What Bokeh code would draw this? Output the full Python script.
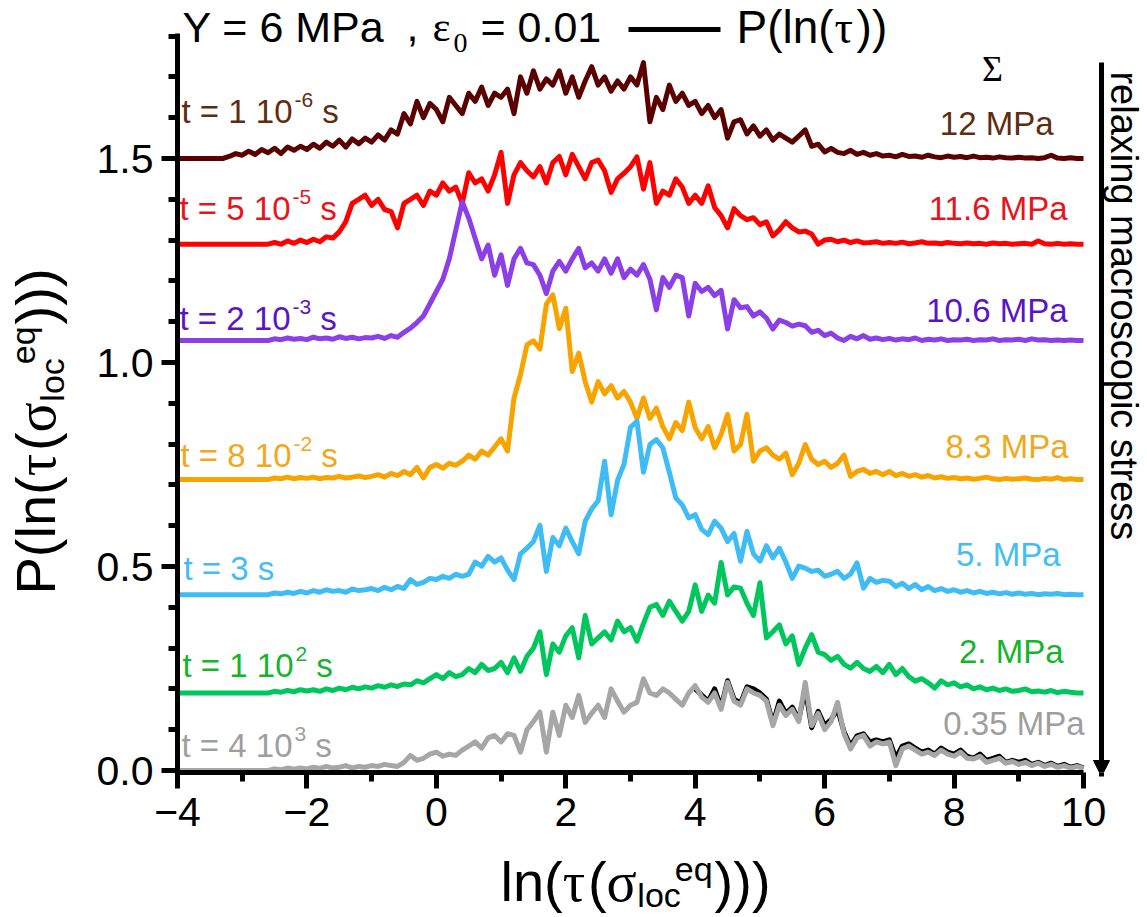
import numpy as np
from bokeh.plotting import figure
from bokeh.layouts import row, column
from bokeh.models import Range1d, FixedTicker, Label, Arrow, NormalHead
from bokeh.embed import file_html
from bokeh.resources import INLINE

# ---------------- data ----------------
# sampling grid of ln(tau), step 0.1 from -4 to 10
x_grid = [round(-4 + 0.1 * i, 1) for i in range(141)]

# relaxation time labels and macroscopic stress labels
t_mantissa = ["1", "5", "2", "8", "3", "1", "4"]
t_exponent = ["-6", "-5", "-3", "-2", "", "2", "3"]
stress_labels = ["12 MPa", "11.6 MPa", "10.6 MPa", "8.3 MPa", "5. MPa", "2. MPa", "0.35 MPa"]
stack_offsets = [1.50, 1.29, 1.054, 0.713, 0.431, 0.19, 0.0]

p_t1e6 = [0, 0, 0, 0, 0, 0, 0, 0, 0.005, 0.012,
          0.008, 0.018, 0.01, 0.022, 0.014, 0.025, 0.012, 0.028, 0.02, 0.03,
          0.022, 0.035, 0.025, 0.04, 0.03, 0.045, 0.028, 0.048, 0.036, 0.05,
          0.04, 0.058, 0.045, 0.07, 0.06, 0.11, 0.085, 0.14, 0.1, 0.135,
          0.12, 0.09, 0.15, 0.13, 0.11, 0.16, 0.14, 0.175, 0.13, 0.16,
          0.15, 0.17, 0.11, 0.2, 0.16, 0.215, 0.17, 0.195, 0.18, 0.215,
          0.16, 0.2, 0.15, 0.19, 0.225, 0.18, 0.2, 0.165, 0.19, 0.17,
          0.2, 0.18, 0.235, 0.09, 0.15, 0.12, 0.18, 0.14, 0.16, 0.13,
          0.14, 0.11, 0.13, 0.1, 0.12, 0.05, 0.09, 0.095, 0.06, 0.08,
          0.055, 0.07, 0.045, 0.06, 0.05, 0.04, 0.055, 0.07, 0.03, 0.035,
          0.016, 0.025, 0.015, 0.012, 0.02, 0.01, 0.015, 0.008, 0.012, 0.006,
          0.008, 0.004, 0.01, 0.005, 0.006, 0.003, 0.008, 0.004, 0.002, 0.006,
          0.003, 0.005, 0.002, 0.006, 0.002, 0.003, 0.001, 0.004, 0.002, 0.001,
          0.003, 0.001, 0.002, 0, 0.002, 0.008, 0.001, 0, 0.002, 0,
          0]

p_t5e5 = [0, 0, 0, 0, 0, 0, 0, 0, 0, 0,
          0, 0, 0, 0, 0, 0.004, 0, 0.008, 0.002, 0.01,
          0.004, 0.012, 0.006, 0.018, 0.015, 0.03, 0.055, 0.1, 0.11, 0.12,
          0.095, 0.11, 0.085, 0.08, 0.04, 0.1, 0.11, 0.12, 0.095, 0.13,
          0.12, 0.15, 0.13, 0.14, 0.1, 0.175, 0.15, 0.16, 0.13, 0.17,
          0.225, 0.1, 0.17, 0.2, 0.18, 0.165, 0.19, 0.15, 0.2, 0.215,
          0.17, 0.22, 0.19, 0.16, 0.2, 0.206, 0.18, 0.127, 0.16, 0.174,
          0.19, 0.214, 0.135, 0.2, 0.1, 0.13, 0.12, 0.16, 0.14, 0.1,
          0.12, 0.1, 0.143, 0.09, 0.07, 0.04, 0.087, 0.07, 0.06, 0.065,
          0.048, 0.055, 0.02, 0.035, 0.055, 0.04, 0.03, 0.032, 0.025, 0.0,
          0.01, 0.012, 0.006, 0.01, 0.004, 0.008, 0.003, 0.004, 0.006, 0.002,
          0.004, 0.002, 0.005, 0.001, 0.003, 0.006, 0.002, 0.003, 0.001, 0.004,
          0.002, 0.001, 0.003, 0.001, 0.002, 0, 0.003, 0.001, 0.002, 0,
          0.001, 0.002, 0, 0.008, 0.001, 0, 0.002, 0, 0.001, 0,
          0]

p_t2e3 = [0, 0, 0, 0, 0, 0, 0, 0, 0, 0,
          0, 0, 0, 0, 0, 0.004, 0.002, 0.006, 0.003, 0.005,
          0.002, 0.008, 0.004, 0.006, 0.003, 0.009, 0.005, 0.008, 0.004, 0.007,
          0.006, 0.01, 0.005, 0.012, 0.008, 0.02, 0.03, 0.044, 0.06, 0.09,
          0.12, 0.15, 0.2, 0.27, 0.34, 0.3, 0.25, 0.2, 0.234, 0.16,
          0.21, 0.135, 0.2, 0.226, 0.19, 0.186, 0.16, 0.115, 0.17, 0.194,
          0.17, 0.2, 0.226, 0.178, 0.19, 0.17, 0.2, 0.165, 0.2, 0.154,
          0.175, 0.16, 0.186, 0.15, 0.075, 0.154, 0.13, 0.16, 0.154, 0.06,
          0.14, 0.12, 0.13, 0.11, 0.123, 0.028, 0.1, 0.08, 0.083, 0.06,
          0.07, 0.055, 0.028, 0.05, 0.044, 0.035, 0.04, 0.036, 0.02, 0.025,
          0.012, 0.018, 0.006, 0, 0.01, 0.004, 0.012, 0.003, 0.006, 0.002,
          0.005, 0.001, 0.004, 0.002, 0.006, 0, 0.003, 0.001, 0.004, 0,
          0.002, 0.001, 0.003, 0, 0.002, 0.001, 0.004, 0, 0.002, 0.001,
          0.003, 0, 0.004, 0.001, 0.002, 0, 0.001, 0, 0.001, 0,
          0]

p_t8e2 = [0, 0, 0, 0, 0, 0, 0, 0, 0, 0,
          0, 0, 0, 0, 0, 0.004, 0.002, 0.006, 0.002, 0.005,
          0.003, 0.006, 0.002, 0.005, 0.004, 0.008, 0.004, 0.006, 0.009, 0.005,
          0.008, 0.012, 0.006, 0.015, 0.01, 0.02, 0.012, 0.03, 0.004, 0.03,
          0.037, 0.028, 0.04, 0.035, 0.045, 0.06, 0.05, 0.07, 0.06, 0.08,
          0.1, 0.07, 0.2, 0.257, 0.33, 0.34, 0.32, 0.43, 0.453, 0.37,
          0.42, 0.265, 0.31, 0.24, 0.19, 0.24, 0.21, 0.23, 0.2, 0.216,
          0.19, 0.15, 0.2, 0.15, 0.175, 0.13, 0.1, 0.14, 0.12, 0.19,
          0.127, 0.1, 0.13, 0.078, 0.11, 0.16, 0.07, 0.086, 0.16, 0.045,
          0.07, 0.078, 0.06, 0.05, 0.065, 0.012, 0.04, 0.086, 0.05, 0.037,
          0.045, 0.03, 0.04, 0.06, 0.008, 0.02, 0.025, 0.015, 0.02, 0.012,
          0.02, 0.01, 0.015, 0.008, 0.012, 0.006, 0.01, 0.004, 0.007, 0.003,
          0.005, 0.002, 0.004, 0.001, 0.003, 0.006, 0.002, 0, 0.003, 0.001,
          0.002, 0.004, 0.001, 0, 0.003, 0.001, 0.005, 0, 0.002, 0,
          0]

p_t3 = [0, 0, 0, 0, 0, 0, 0, 0, 0, 0,
        0, 0, 0, 0, 0, 0.004, 0.002, 0.006, 0.003, 0.008,
        0.004, 0.01, 0.006, 0.012, 0.008, 0.01, 0.006, 0.014, 0.01, 0.012,
        0.015, 0.01, 0.018, 0.012, 0.02, 0.015, 0.037, 0.025, 0.03, 0.04,
        0.037, 0.045, 0.04, 0.05, 0.045, 0.05, 0.08, 0.07, 0.094, 0.08,
        0.09, 0.06, 0.037, 0.1, 0.114, 0.13, 0.17, 0.057, 0.14, 0.12,
        0.163, 0.13, 0.1, 0.18, 0.21, 0.23, 0.327, 0.196, 0.28, 0.32,
        0.41, 0.425, 0.3, 0.368, 0.38, 0.36, 0.3, 0.237, 0.22, 0.188,
        0.196, 0.16, 0.147, 0.18, 0.163, 0.13, 0.15, 0.082, 0.155, 0.1,
        0.082, 0.12, 0.09, 0.114, 0.08, 0.04, 0.07, 0.065, 0.057, 0.06,
        0.045, 0.05, 0.057, 0.04, 0.05, 0.078, 0.016, 0.04, 0.03, 0.035,
        0.033, 0.02, 0.028, 0.015, 0.025, 0.012, 0.02, 0.01, 0.015, 0.008,
        0.012, 0.006, 0.01, 0.004, 0.008, 0.003, 0.006, 0.002, 0.005, 0.001,
        0.004, 0.001, 0.003, 0, 0.002, 0.001, 0.003, 0, 0.001, 0,
        0]

p_t1e2 = [0, 0, 0, 0, 0, 0, 0, 0, 0, 0,
          0, 0, 0, 0, 0, 0.004, 0.002, 0.006, 0.003, 0.008,
          0.005, 0.008, 0.004, 0.01, 0.006, 0.012, 0.008, 0.014, 0.01, 0.015,
          0.012, 0.018, 0.014, 0.02, 0.016, 0.022, 0.02, 0.03, 0.025, 0.035,
          0.045, 0.035, 0.05, 0.04, 0.045, 0.06, 0.05, 0.07, 0.055, 0.06,
          0.075, 0.05, 0.086, 0.053, 0.09, 0.11, 0.15, 0.045, 0.12, 0.1,
          0.14, 0.16, 0.086, 0.19, 0.12, 0.135, 0.15, 0.13, 0.176, 0.15,
          0.16, 0.127, 0.17, 0.21, 0.217, 0.19, 0.225, 0.2, 0.176, 0.2,
          0.265, 0.2, 0.24, 0.22, 0.32, 0.24, 0.26, 0.257, 0.22, 0.19,
          0.27, 0.135, 0.15, 0.167, 0.12, 0.14, 0.07, 0.11, 0.143, 0.1,
          0.094, 0.08, 0.09, 0.07, 0.061, 0.075, 0.06, 0.053, 0.065, 0.05,
          0.07, 0.045, 0.06, 0.04, 0.029, 0.035, 0.025, 0.012, 0.03, 0.02,
          0.025, 0.015, 0.02, 0.01, 0.015, 0.008, 0.012, 0.006, 0.01, 0.004,
          0.006, 0.01, 0.003, 0.005, 0.002, 0.006, 0.001, 0.004, 0.002, 0,
          0]

p_t4e3 = [0, 0, 0, 0, 0, 0, 0, 0, 0, 0,
          0, 0, 0, 0, 0, 0.004, 0.002, 0.006, 0.003, 0.006,
          0.004, 0.008, 0.005, 0.01, 0.006, 0.008, 0.012, 0.006, 0.01, 0.008,
          0.012, 0.01, 0.015, 0.012, 0.01, 0.02, 0.037, 0.025, 0.03, 0.04,
          0.045, 0.035, 0.04, 0.037, 0.05, 0.06, 0.07, 0.055, 0.08, 0.086,
          0.07, 0.09, 0.086, 0.045, 0.1, 0.12, 0.143, 0.045, 0.143, 0.086,
          0.16, 0.13, 0.184, 0.118, 0.14, 0.16, 0.13, 0.2, 0.17, 0.143,
          0.16, 0.167, 0.225, 0.19, 0.184, 0.2, 0.19, 0.175, 0.16, 0.19,
          0.208, 0.18, 0.167, 0.19, 0.15, 0.216, 0.17, 0.16, 0.2, 0.19,
          0.184, 0.17, 0.11, 0.16, 0.135, 0.15, 0.12, 0.216, 0.11, 0.14,
          0.1, 0.12, 0.167, 0.09, 0.053, 0.08, 0.086, 0.06, 0.07, 0.065,
          0.07, 0.012, 0.053, 0.06, 0.05, 0.04, 0.045, 0.037, 0.05, 0.04,
          0.035, 0.045, 0.03, 0.028, 0.035, 0.02, 0.025, 0.03, 0.018, 0.022,
          0.015, 0.02, 0.012, 0.018, 0.01, 0.015, 0.008, 0.012, 0.006, 0.01,
          0.005]

# P(ln(tau)) reference distribution (black), sampled from ln(tau)=4 to 10
x_ref = [round(4 + 0.1 * i, 1) for i in range(61)]
p_ref = [0.2, 0.185, 0.17, 0.2, 0.155, 0.22, 0.175, 0.165, 0.205, 0.2,
         0.19, 0.175, 0.115, 0.17, 0.14, 0.155, 0.125, 0.2, 0.105, 0.145,
         0.11, 0.125, 0.15, 0.095, 0.06, 0.085, 0.09, 0.07, 0.075, 0.07,
         0.075, 0.03, 0.06, 0.065, 0.055, 0.045, 0.05, 0.04, 0.055, 0.045,
         0.04, 0.05, 0.035, 0.03, 0.04, 0.025, 0.03, 0.035, 0.02, 0.025,
         0.02, 0.025, 0.015, 0.02, 0.012, 0.018, 0.01, 0.015, 0.008, 0.012,
         0.006]

series = [p_t1e6, p_t5e5, p_t2e3, p_t8e2, p_t3, p_t1e2, p_t4e3]

line_colors = ["#5a0000", "#ff0000", "#8c3fe6", "#f7a400", "#40bcf5", "#00c65e", "#a6a6a6"]
label_colors = ["#5e2c0e", "#e8141c", "#5a14c8", "#f0a81c", "#45bdf2", "#14b52c", "#9e9e9e"]

# ---------------- layout geometry (page pixels) ----------------
TOTAL_W, TOTAL_H = 1145, 915
LEFT_W, BOTTOM_H = 75, 66
FRAME_L, FRAME_B = 177, 772
MAIN_H = TOTAL_H - BOTTOM_H
PXX = 906 / 14.0   # pixels per unit ln(tau)
PXY = 408.0        # pixels per unit P
def X(px):
    return -4 + (px - FRAME_L) / PXX
def Y(py):
    return (770 - py) / PXY

SANS = "Liberation Sans"
SERIF = "Liberation Serif"
WID = {'t': .278, ' ': .278, '=': .584, '-': .333, 's': .5, '.': .278, 'M': .833, 'P': .667,
       'a': .556, 'l': .222, 'n': .556, '(': .333, ')': .333, 'o': .556, 'c': .5, 'e': .556,
       'q': .556, 'Y': .667, ',': .278}
def tw(s, size):
    return sum(WID.get(c, .556) for c in s) * size
BASE_K = 0.37   # empirical shift between requested and drawn alphabetic baseline

p = figure(width=TOTAL_W - LEFT_W, height=MAIN_H, output_backend="svg", toolbar_location=None,
           x_range=Range1d(X(FRAME_L), X(TOTAL_W)), y_range=Range1d(Y(FRAME_B), Y(0)),
           min_border_left=FRAME_L - LEFT_W, min_border_right=0, min_border_top=0,
           min_border_bottom=MAIN_H - FRAME_B)
p.frame_align = False
p.outline_line_color = None
p.xgrid.visible = False
p.ygrid.visible = False

# axes
p.xaxis.ticker = FixedTicker(ticks=[-4, -2, 0, 2, 4, 6, 8, 10], minor_ticks=[-3, -1, 1, 3, 5, 7, 9])
p.yaxis.ticker = FixedTicker(ticks=[0, 0.5, 1.0, 1.5],
                             minor_ticks=[0.1, 0.2, 0.3, 0.4, 0.6, 0.7, 0.8, 0.9, 1.1, 1.2, 1.3, 1.4, 1.6, 1.7, 1.8])
p.yaxis.major_label_overrides = {0: "0.0", 0.5: "0.5", 1: "1.0", 1.5: "1.5"}
p.xaxis.bounds = (-4, 10)
p.yaxis.bounds = (Y(FRAME_B), 1.806)
for ax in (p.xaxis, p.yaxis):
    ax.axis_line_width = 5
    ax.axis_line_color = "black"
    ax.major_tick_line_width = 5
    ax.minor_tick_line_width = 5
    ax.major_tick_out = 16
    ax.major_tick_in = 0
    ax.minor_tick_out = 9
    ax.minor_tick_in = 0
    ax.major_label_text_font = SANS
    ax.major_label_text_font_size = "41px"
    ax.major_label_text_color = "black"
p.xaxis.major_label_standoff = 9
p.yaxis.major_label_standoff = 8

# curves
p.line(x_ref, list(np.array(p_ref) + stack_offsets[6]), line_color="black", line_width=5, line_join="round")
for ys, off, col in zip(series, stack_offsets, line_colors):
    p.line(x_grid, list(np.array(ys) + off), line_color=col, line_width=5, line_join="round")

def txt(fig, x, y, s, size, color="black", font=SANS, angle=0, align="left", baseline="alphabetic"):
    fig.add_layout(Label(x=x, y=y, text=s, text_font=font, text_font_size=f"{size}px",
                         text_color=color, angle=angle, text_align=align, text_baseline=baseline))

def mtxt(px, py, s, size, **kw):
    # py is the wanted baseline in page pixels
    txt(p, X(px), Y(py - BASE_K * size), s, size, **kw)

# left time labels (page px of left edge, baseline)
left_pos = [(181, 123), (179, 220), (179, 330), (180, 467), (183, 580), (182, 677), (181, 757)]
LS = 33
for (lx, ly), m, e, c in zip(left_pos, t_mantissa, t_exponent, label_colors):
    if e:
        main = f"t = {m} 10"
        mtxt(lx, ly, main, LS, color=c)
        x2 = lx + tw(main, LS) + 2
        mtxt(x2, ly - 16, e, 21, color=c)
        mtxt(x2 + tw(e, 21) + tw(" ", LS), ly, "s", LS, color=c)
    else:
        mtxt(lx, ly, f"t = {m} s", LS, color=c)

# right stress labels (right edge, baseline)
right_pos = [(1053, 135), (1067, 220), (1067, 322), (1068, 458), (1060, 566), (1063, 663), (1084, 735)]
for (rx, ry), s, c in zip(right_pos, stress_labels, label_colors):
    mtxt(rx, ry, s, LS, color=c, align="right")

mtxt(992, 82, "\u03a3", 36, font=SERIF, align="center")

# title line
TS = 43
mtxt(182, 42, "Y = 6 MPa", TS)
mtxt(406, 42, ",", TS)
mtxt(432, 42, "\u03b5", TS, font=SERIF)
mtxt(453, 53, "0", 28, font=SERIF)
mtxt(480, 42, "= 0.01", TS)
p.add_layout(Arrow(end=None, x_start=X(628), y_start=Y(29), x_end=X(720), y_end=Y(29),
                   line_color="black", line_width=5))
LG = 46
mtxt(736, 44, "P(ln(", LG)
mtxt(736 + tw("P(ln(", LG) + 1, 44, "\u03c4", LG, font=SERIF)
mtxt(736 + tw("P(ln(", LG) + 23, 44, "))", LG)

# right arrow + text
p.add_layout(Arrow(end=NormalHead(size=16, fill_color="black", line_color="black", line_width=1),
                   x_start=X(1101), y_start=Y(62), x_end=X(1101), y_end=Y(776),
                   line_color="black", line_width=5))
mtxt(1123, 85, "relaxing macroscopic stress", 38, angle=-np.pi / 2, baseline="middle")

# ---------------- axis-title sizes ----------------
AS = 56
SUB = 34

# ---------------- y-axis title panel (coordinates = page pixels) ----------------
pyl = figure(width=LEFT_W, height=MAIN_H, output_backend="svg", toolbar_location=None,
             x_range=Range1d(0, LEFT_W), y_range=Range1d(MAIN_H, 0),
             x_axis_location=None, y_axis_location=None, min_border=0)
pyl.frame_align = False
pyl.outline_line_color = None
pyl.grid.visible = False
bxp, byp = 56, 594   # wanted baseline x and start y of the rotated title
def rtxt(offset_along, off_perp, s, size, font=SANS):
    txt(pyl, bxp + off_perp - BASE_K * size, byp - offset_along, s, size, font=font, angle=np.pi / 2)
pos = 0
rtxt(pos, 0, "P(ln(", AS); pos += tw("P(ln(", AS)
rtxt(pos, 0, "\u03c4", AS, font=SERIF); pos += 0.45 * AS
rtxt(pos, 0, "(", AS); pos += tw("(", AS)
rtxt(pos, 0, "\u03c3", AS, font=SERIF); pos += 0.55 * AS
rtxt(pos, 8, "loc", SUB); le = pos + tw("loc", SUB)
rtxt(le - 6, -21, "eq", SUB); pos = le - 6 + tw("eq", SUB) + 2
rtxt(pos, 0, ")))", AS)

# ---------------- x-axis title panel (coordinates = page pixels) ----------------
pxl = figure(width=TOTAL_W, height=BOTTOM_H, output_backend="svg", toolbar_location=None,
             x_range=Range1d(0, TOTAL_W), y_range=Range1d(TOTAL_H, MAIN_H),
             x_axis_location=None, y_axis_location=None, min_border=0)
pxl.frame_align = False
pxl.outline_line_color = None
pxl.grid.visible = False
def btxt(px, py, s, size, font=SANS):
    txt(pxl, px, py - BASE_K * size, s, size, font=font)
bx, by = 500, 902
btxt(bx, by, "ln(", AS); bx += tw("ln(", AS)
btxt(bx, by, "\u03c4", AS, font=SERIF); bx += 0.45 * AS
btxt(bx, by, "(", AS); bx += tw("(", AS)
btxt(bx, by, "\u03c3", AS, font=SERIF); bx += 0.55 * AS
btxt(bx, by + 5, "loc", SUB); lx_end = bx + tw("loc", SUB)
btxt(lx_end - 6, by - 21, "eq", SUB); bx = lx_end - 6 + tw("eq", SUB) + 2
btxt(bx, by, ")))", AS)

layout = column(row(pyl, p), pxl)
open("out.html", "w").write(file_html(layout, INLINE))
